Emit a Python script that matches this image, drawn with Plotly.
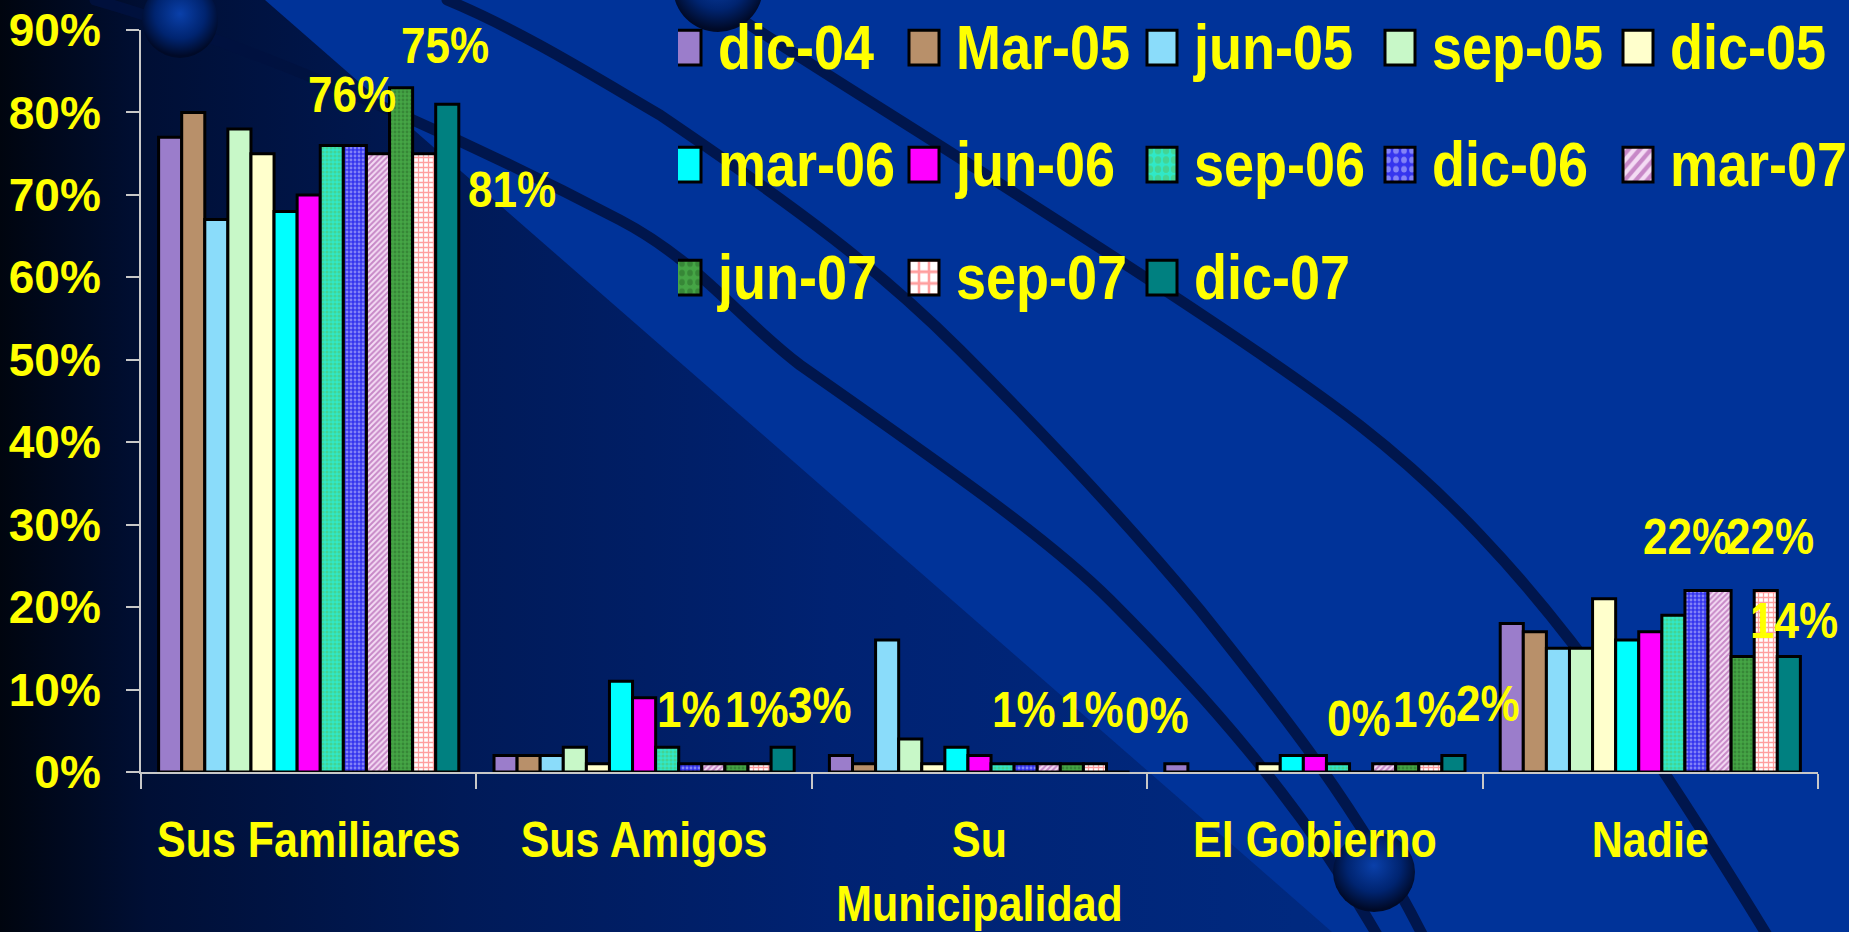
import base64
import plotly.graph_objects as go

# ---------------- data ----------------
categories = ["Sus Familiares", "Sus Amigos", "Su<br>Municipalidad", "El Gobierno", "Nadie"]
series_names = ["dic-04", "Mar-05", "jun-05", "sep-05", "dic-05",
                "mar-06", "jun-06", "sep-06", "dic-06", "mar-07",
                "jun-07", "sep-07", "dic-07"]
dic_04 = [77, 2, 2, 1, 18]
mar_05 = [80, 2, 1, 0, 17]
jun_05 = [67, 2, 16, 0, 15]
sep_05 = [78, 3, 4, 0, 15]
dic_05 = [75, 1, 1, 1, 21]
mar_06 = [68, 11, 3, 2, 16]
jun_06 = [70, 9, 2, 2, 17]
sep_06 = [76, 3, 1, 1, 19]
dic_06 = [76, 1, 1, 0, 22]
mar_07 = [75, 1, 1, 1, 22]
jun_07 = [83, 1, 1, 1, 14]
sep_07 = [75, 1, 1, 1, 22]
dic_07 = [81, 3, 0, 2, 14]
series_values = [dic_04, mar_05, jun_05, sep_05, dic_05, mar_06, jun_06,
                 sep_06, dic_06, mar_07, jun_07, sep_07, dic_07]
y_ticks = [0, 10, 20, 30, 40, 50, 60, 70, 80, 90]
y_tick_labels = [f"{v}%" for v in y_ticks]

# series that carry data labels in the original
labelled_series = ["dic-06", "sep-07", "dic-07"]

# ---------------- styles ----------------
W, H = 1849, 932
ML, MR, MT, MB = 141, 31, 30, 160
FONT = "Liberation Sans, Arial, sans-serif"
YELLOW = "#ffff00"

styles = [
    dict(color="#9b7dcb"),
    dict(color="#b8906a"),
    dict(color="#8adcfa"),
    dict(color="#c8f8c8"),
    dict(color="#ffffcc"),
    dict(color="#00ffff"),
    dict(color="#ff00ff"),
    dict(color="#40f0c0", pattern=dict(shape=".", bgcolor="#30e8c8", fgcolor="#55c060", size=4, solidity=0.5)),
    dict(color="#3838ee", pattern=dict(shape=".", bgcolor="#3535ee", fgcolor="#d0d0ff", size=4, solidity=0.4)),
    dict(color="#e8c8e8", pattern=dict(shape="/", bgcolor="#f4dcf4", fgcolor="#993399", size=4, solidity=0.5)),
    dict(color="#3fa03f", pattern=dict(shape=".", bgcolor="#45a545", fgcolor="#2a6a2a", size=4, solidity=0.4)),
    dict(color="#ffffff", pattern=dict(shape="+", bgcolor="#ffffff", fgcolor="#ff4040", size=5, solidity=0.45)),
    dict(color="#008080"),
]
legend_of = ["legend"] * 5 + ["legend2"] * 5 + ["legend3"] * 3

# label offsets (pixels) for each labelled series, per category
label_xshift = {"dic-06": [43, 45, 44, 44, 37],
                "sep-07": [136, 113, 112, 110, 120],
                "dic-07": [203, 176, 177, 173, 144]}
label_yshift = {"dic-06": [49, 52, 52, 52, 52],
                "sep-07": [106, 52, 52, 52, 52],
                "dic-07": [-87, 40, 55, 50, 34]}
TEXT_STRETCH = 1.15          # the original lettering is drawn taller than it is wide
LEGEND_SWATCH = (2.5, 2.9)   # enlarge legend swatches to ~30x35 px
SWATCH_SHIFT = -12           # move swatch left, away from its label

# ---------------- background (decoration only) ----------------
svg = f'''<svg xmlns="http://www.w3.org/2000/svg" width="{W}" height="{H}" viewBox="0 0 {W} {H}" preserveAspectRatio="none">
<defs>
<linearGradient id="g" x1="0" y1="0" x2="1" y2="0">
<stop offset="0" stop-color="#00050f"/>
<stop offset="0.08" stop-color="#000f35"/>
<stop offset="0.25" stop-color="#001a58"/>
<stop offset="0.45" stop-color="#002272"/>
<stop offset="0.7" stop-color="#00297f"/>
<stop offset="1" stop-color="#002c86"/>
</linearGradient>
<radialGradient id="s" cx="0.5" cy="0.42" r="0.55">
<stop offset="0" stop-color="#0a40aa"/>
<stop offset="0.6" stop-color="#002470"/>
<stop offset="1" stop-color="#000a28"/>
</radialGradient>
</defs>
<rect width="{W}" height="{H}" fill="url(#g)"/>
<polygon points="265,0 {W},0 {W},{H} 1332,{H}" fill="#003399"/>
<g fill="none" stroke="#001240" stroke-opacity="0.85" stroke-width="11" stroke-linecap="round">
<path d="M95,0 C200,30 400,105 620,220 C700,262 740,320 800,365 C950,470 1050,540 1110,600 C1200,690 1300,800 1380,940"/>
<path d="M447,0 C520,30 600,80 660,115 C800,210 880,270 960,350 C1080,470 1150,550 1200,610 C1280,710 1360,810 1425,940"/>
<path d="M712,0 C800,60 1000,180 1210,320 C1330,400 1400,450 1480,535 C1580,640 1660,760 1770,940"/>
</g>
<circle cx="180" cy="20" r="38" fill="url(#s)"/>
<circle cx="718" cy="-13" r="45" fill="url(#s)"/>
<ellipse cx="1374" cy="872" rx="41" ry="40" fill="url(#s)"/>
</svg>'''
bg_uri = "data:image/svg+xml;base64," + base64.b64encode(svg.encode()).decode()

pw, ph = W - ML - MR, H - MT - MB

fig = go.Figure()
for name, vals, st, lg in zip(series_names, series_values, styles, legend_of):
    marker = dict(color=st["color"], line=dict(color="#000000", width=3))
    if "pattern" in st:
        marker["pattern"] = st["pattern"]
    fig.add_trace(go.Bar(name=name, x=categories, y=vals, marker=marker, legend=lg))

annotations = []
for name in labelled_series:
    vals = series_values[series_names.index(name)]
    for i, cat in enumerate(categories):
        annotations.append(dict(
            x=cat, y=vals[i], xref="x", yref="y", text=f"{vals[i]}%",
            showarrow=False, xshift=label_xshift[name][i], yshift=label_yshift[name][i],
            font=dict(family=FONT, size=44, color=YELLOW, weight="bold")))

legend_common = dict(orientation="h", bgcolor="rgba(0,0,0,0)", borderwidth=0,
                     font=dict(family=FONT, size=54, color=YELLOW, weight="bold"),
                     entrywidth=193, entrywidthmode="pixels",
                     xanchor="left", yanchor="middle", itemwidth=30)
lx = (678 - ML) / pw

fig.update_layout(
    width=W, height=H,
    margin=dict(l=ML, r=MR, t=MT, b=MB, pad=0, autoexpand=False),
    paper_bgcolor="#001030", plot_bgcolor="rgba(0,0,0,0)",
    barmode="group", bargap=0.105, bargroupgap=0,
    showlegend=True,
    legend=dict(legend_common, x=lx, y=(772 - 48) / ph),
    legend2=dict(legend_common, x=lx, y=(772 - 165) / ph),
    legend3=dict(legend_common, x=lx, y=(772 - 278) / ph),
    xaxis=dict(range=[-0.5, len(categories) - 0.5], autorange=False,
               showline=True, linecolor="#c8c8c8", linewidth=2, ticks="outside",
               tickson="boundaries", ticklen=15, tickcolor="#c8c8c8", tickwidth=2,
               showgrid=False, ticklabelstandoff=31, tickangle=0, automargin=False,
               tickfont=dict(family=FONT, size=43, color=YELLOW, weight="bold")),
    yaxis=dict(range=[0, 90], autorange=False, tickmode="array", tickvals=y_ticks,
               ticktext=y_tick_labels, showline=True, automargin=False,
               linecolor="#c8c8c8", linewidth=2, ticks="outside", ticklen=13,
               tickcolor="#c8c8c8", tickwidth=2, showgrid=False, zeroline=False,
               ticklabelstandoff=16,
               tickfont=dict(family=FONT, size=46, color=YELLOW, weight="bold")),
    annotations=annotations,
    images=[dict(source=bg_uri, xref="paper", yref="paper",
                 x=-ML / pw, y=1 + MT / ph, sizex=W / pw, sizey=H / ph,
                 xanchor="left", yanchor="top", sizing="stretch", layer="below")],
)

post = """
document.body.style.margin='0';document.body.style.overflow='hidden';
(function(){
  var gd = document.getElementById('{plot_id}');
  var s = %s, sx = %s, sy = %s, dx = %s;
  function fix(){
    gd.querySelectorAll('text').forEach(function(el){
      if(el.getAttribute('data-str')) return;
      if(el.closest('.ytick')) return;
      var y = parseFloat(el.getAttribute('y')) || 0;
      var t = el.getAttribute('transform') || '';
      el.setAttribute('transform', t + ' translate(0,' + y + ') scale(1,' + s + ') translate(0,' + (-y) + ')');
      el.setAttribute('data-str', '1');
    });
    gd.querySelectorAll('g.legendpoints path').forEach(function(p){
      if(p.getAttribute('data-str')) return;
      var t = p.getAttribute('transform') || '';
      p.setAttribute('transform', t + ' translate(' + dx + ',0) scale(' + sx + ',' + sy + ')');
      p.setAttribute('vector-effect', 'non-scaling-stroke');
      p.style.stroke = '#000000';
      p.style.strokeWidth = '3px';
      p.setAttribute('data-str', '1');
    });
  }
  fix();
  setTimeout(fix, 0);
  setTimeout(fix, 50);
})();
""" % (TEXT_STRETCH, LEGEND_SWATCH[0], LEGEND_SWATCH[1], SWATCH_SHIFT)

fig.write_html("out.html", config={"displayModeBar": False}, post_script=post)
